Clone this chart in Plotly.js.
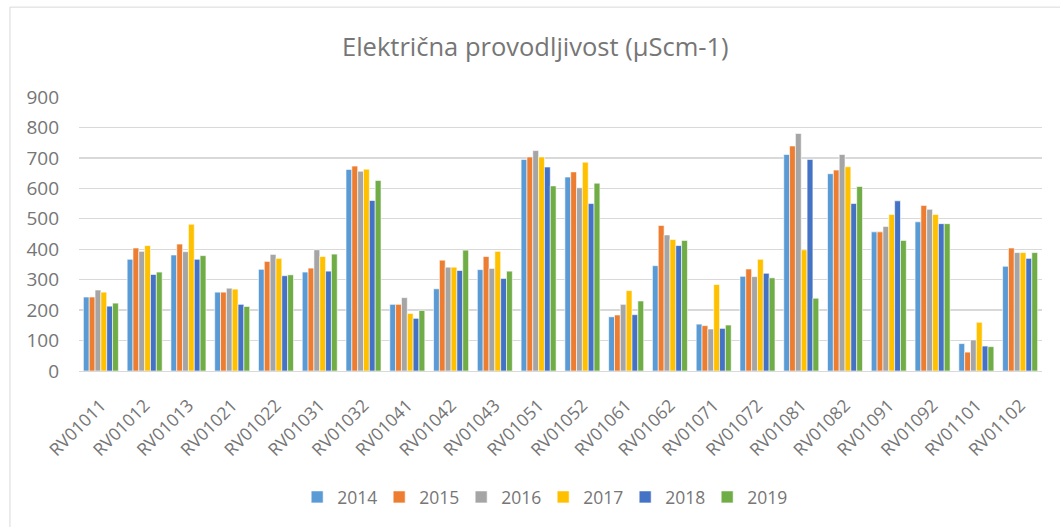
<!DOCTYPE html>
<html>
<head>
<meta charset="utf-8">
<script src="https://cdn.plot.ly/plotly-3.0.1.min.js"></script>
<style>html,body{margin:0;padding:0;background:#fff;}#chart{width:1060px;height:527px;}</style>
</head>
<body>
<div id="chart"></div>
<script>
const categories = ["RV01011","RV01012","RV01013","RV01021","RV01022","RV01031","RV01032","RV01041","RV01042","RV01043","RV01051","RV01052","RV01061","RV01062","RV01071","RV01072","RV01081","RV01082","RV01091","RV01092","RV01101","RV01102"];
const years = ["2014","2015","2016","2017","2018","2019"];
const v2014 = [243,367,381,259,334,325,662,219,270,333,695,637,178,346,154,311,711,648,457,490,90,344];
const v2015 = [243,404,417,259,360,338,673,219,364,376,703,654,184,478,149,335,739,660,457,544,62,404];
const v2016 = [266,393,392,272,383,398,656,241,341,337,724,602,219,447,138,310,780,711,475,531,102,389];
const v2017 = [259,412,482,269,370,376,663,189,341,393,703,686,264,432,284,367,398,671,514,514,160,389];
const v2018 = [213,317,367,219,313,328,560,173,330,304,670,550,185,412,140,321,695,550,559,484,82,370];
const v2019 = [223,325,379,212,316,384,626,199,397,328,608,617,230,429,151,306,239,606,429,484,80,389];
const seriesValues = [v2014,v2015,v2016,v2017,v2018,v2019];
const colors = ["#5B9BD5","#ED7D31","#A5A5A5","#FFC000","#4472C4","#70AD47"];
const titleText = "Električna provodljivost (µScm-1)";

const font = "Open Sans, Noto Sans, sans-serif";
const textColor = "#767676";

const traces = years.map((y,i)=>({
  type:"bar", name:y, x:categories, y:seriesValues[i],
  marker:{color:colors[i], line:{color:"#ffffff", width:0.6}}
}));

const layout = {
  width:1060, height:527,
  margin:{l:79, r:18, t:97, b:156},
  paper_bgcolor:"#ffffff", plot_bgcolor:"#ffffff",
  font:{family:font, color:textColor, size:19},
  title:{text:titleText, font:{family:font, size:25.5, color:textColor}, x:0.505, xanchor:"center", y:0.911, yref:"container", yanchor:"middle"},
  barmode:"group", bargap:0.2, bargroupgap:0,
  xaxis:{tickangle:-45, showgrid:false, showline:true, linecolor:"#D9D9D9", linewidth:1.3, ticks:"", ticklabelstandoff:16, tickfont:{size:17.5, color:textColor}, automargin:false},
  yaxis:{range:[0,900], dtick:100, showgrid:true, gridcolor:"#D9D9D9", gridwidth:1.3, zeroline:false, showline:false, ticks:"", ticklen:0, ticklabelstandoff:19, tickfont:{size:19, color:textColor}, automargin:false},
  showlegend:true,
  legend:{orientation:"h", x:0.482, xanchor:"center", y:-0.46, yanchor:"middle", font:{size:17.5, color:textColor}, itemwidth:30, entrywidth:37, entrywidthmode:"pixels", traceorder:"normal"},
  shapes:[{type:"rect", xref:"paper", yref:"paper", x0:-0.0717, x1:1.2, y0:-1.0, y1:1.328, line:{color:"#D9D9D9", width:1}, fillcolor:"rgba(0,0,0,0)", layer:"below"}]
};

Plotly.newPlot("chart", traces, layout, {displayModeBar:false, staticPlot:true});
</script>
</body>
</html>
